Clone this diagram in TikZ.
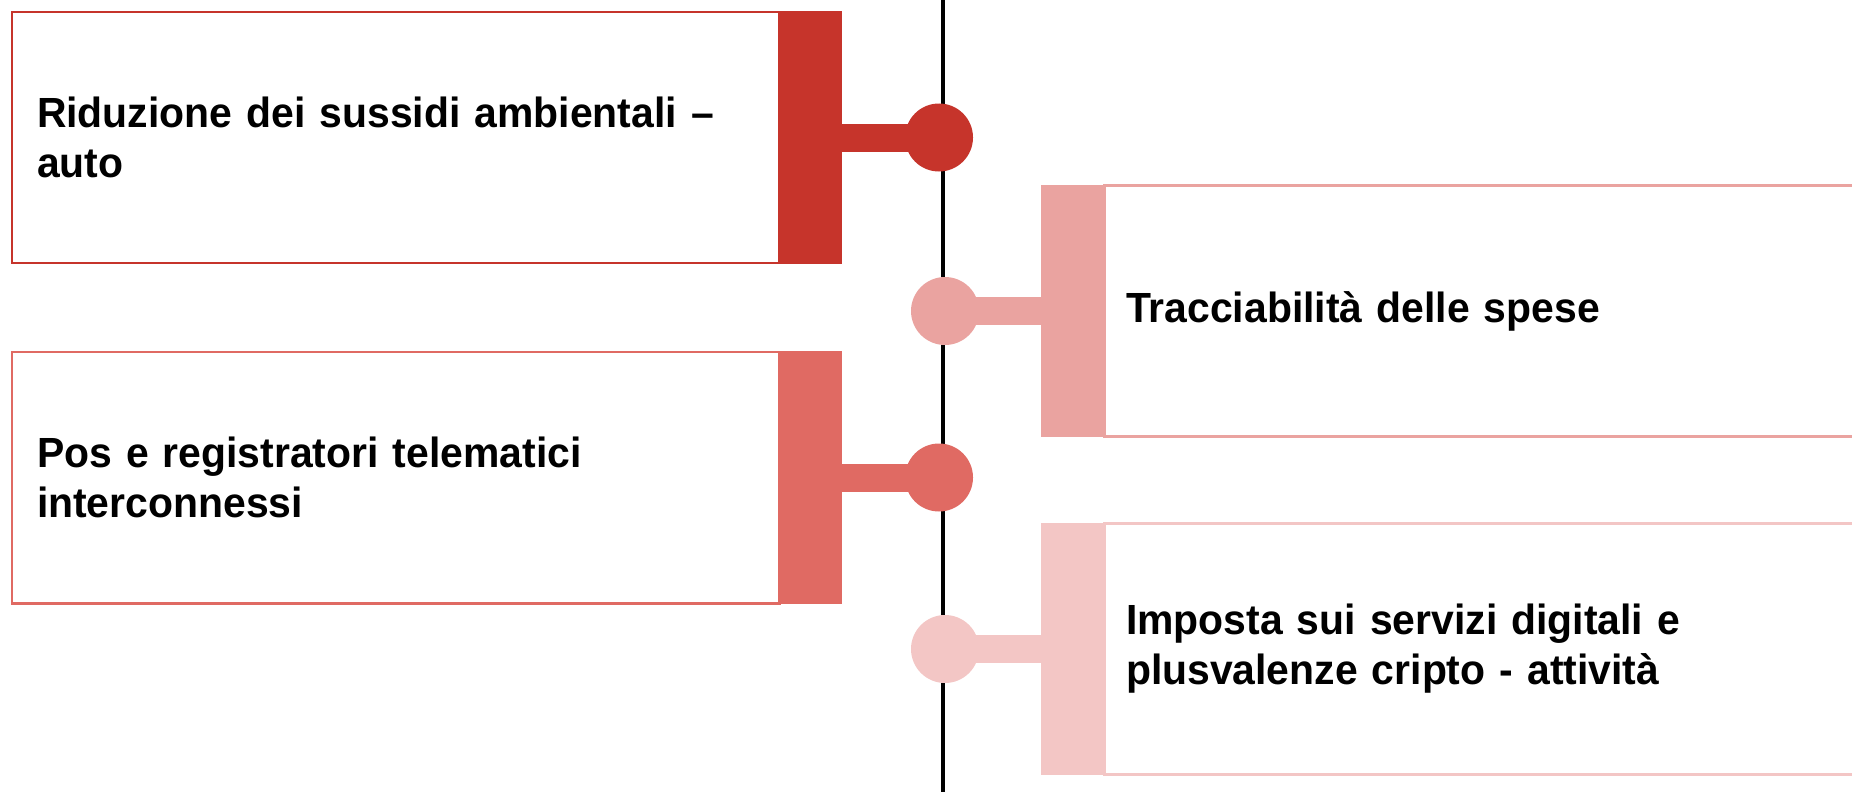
\documentclass[tikz,border=0pt]{standalone}
\usepackage{fontspec}
\setmainfont{Liberation Sans}[FakeStretch=0.97]
\definecolor{tlred}{RGB}{198,52,43}
\definecolor{tlcoral}{RGB}{224,106,99}
\definecolor{tlrose}{RGB}{234,163,160}
\definecolor{tlblush}{RGB}{243,198,197}
\usetikzlibrary{positioning}

\begin{document}
\begin{tikzpicture}[
    card/.style={draw=#1, line width=1.7pt, fill=white, outer sep=0pt,
                 minimum height=5.02cm, inner xsep=0.5cm, align=left,
                 font=\bfseries\fontsize{24}{28.5}\selectfont},
    tab/.style={fill=#1, outer sep=0pt, inner sep=0pt,
                minimum width=1.26cm, minimum height=5.05cm},
    dot/.style={circle, fill=#1, inner sep=0pt, minimum size=1.36cm},
    stub/.style={#1, line width=0.56cm}
  ]
  \useasboundingbox (0,0) rectangle (37.04,-15.82);
  \clip (0,0) rectangle (37.04,-15.82);

  % the time line
  \coordinate (top) at (18.86,0.1);
  \coordinate (bottom) at (18.86,-15.92);
  \draw[line width=1.8pt] (top) -- (bottom);

  % left items
  \node[card=tlred, text width=14.34cm, anchor=east] (card1) at (15.58,-2.75)
    {Riduzione dei sussidi ambientali –\\auto};
  \node[tab=tlred, right=0pt of card1] (tab1) {};
  \node[dot=tlred] (dot1) at (18.78,-2.75) {};
  \draw[stub=tlred] (tab1.east) -- (dot1.center);

  \node[card=tlcoral, text width=14.34cm, anchor=east] (card3) at (15.58,-9.55)
    {Pos e registratori telematici\\interconnessi};
  \node[tab=tlcoral, right=0pt of card3] (tab3) {};
  \node[dot=tlcoral] (dot3) at (18.78,-9.55) {};
  \draw[stub=tlcoral] (tab3.east) -- (dot3.center);

  % right items
  \node[tab=tlrose] (tab2) at (21.45,-6.22) {};
  \node[card=tlrose, text width=15.52cm, inner xsep=0.44cm, right=0pt of tab2] (card2)
    {Tracciabilità delle spese};
  \node[dot=tlrose] (dot2) at (18.9,-6.22) {};
  \draw[stub=tlrose] (tab2.west) -- (dot2.center);

  \node[tab=tlblush] (tab4) at (21.45,-12.98) {};
  \node[card=tlblush, text width=15.52cm, inner xsep=0.44cm, right=0pt of tab4] (card4)
    {Imposta sui servizi digitali e\\plusvalenze cripto - attività};
  \node[dot=tlblush] (dot4) at (18.9,-12.98) {};
  \draw[stub=tlblush] (tab4.west) -- (dot4.center);
\end{tikzpicture}
\end{document}
